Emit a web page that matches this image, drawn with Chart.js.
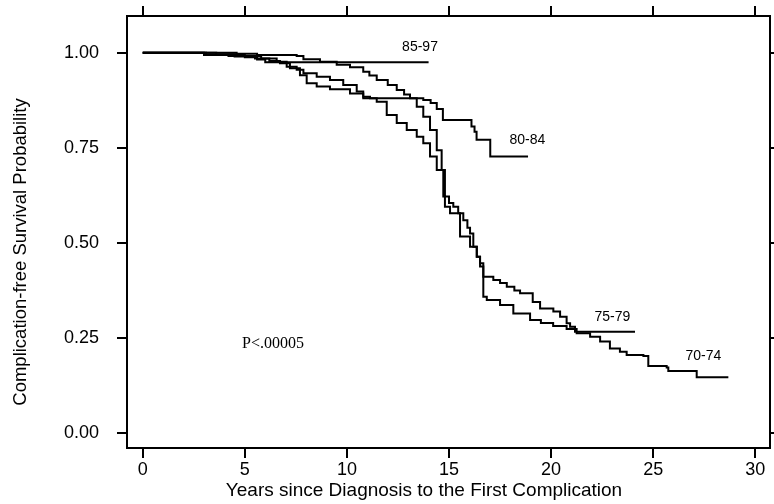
<!DOCTYPE html>
<html lang="en">
<head>
<meta charset="UTF-8" />
<title>Complication-free Survival Probability</title>
<script src="https://cdn.jsdelivr.net/npm/chart.js"></script>
<style>
  body { margin: 0; background: #fff; }
</style>
</head>
<body>
<canvas id="kmChart" width="774" height="504"></canvas>
<script>
// axis ticks
const xTicks = [0, 5, 10, 15, 20, 25, 30];
const yTicks = [0, 0.25, 0.5, 0.75, 1];
const xTitle = "Years since Diagnosis to the First Complication";
const yTitle = "Complication-free Survival Probability";

// cohorts (year of diagnosis)
const cohorts = ["70-74", "75-79", "80-84", "85-97"];

// Kaplan-Meier steps: event time (years) and survival after it
const years7074 = [0, 3.1, 4.5, 5.5, 6.2, 6.72, 7.21, 7.7, 8.03, 8.52, 9.17, 10.15, 10.8, 11.46, 11.95, 12.44, 12.93, 13.42, 13.74, 14.07, 14.4, 14.72, 14.8, 15.05, 15.54, 16.03, 16.36, 16.52, 16.68, 16.85, 17.5, 18.15, 18.97, 19.5, 20.1, 20.76, 21.25, 21.91, 22.4, 22.88, 23.37, 23.7, 24.52, 24.76, 25.66, 25.74, 27.13, 28.68];
const surv7074  = [1, 0.995, 0.99, 0.985, 0.978, 0.972, 0.959, 0.941, 0.92, 0.911, 0.904, 0.893, 0.88, 0.871, 0.836, 0.815, 0.797, 0.779, 0.762, 0.727, 0.692, 0.622, 0.595, 0.578, 0.517, 0.49, 0.464, 0.438, 0.359, 0.35, 0.337, 0.315, 0.298, 0.29, 0.282, 0.274, 0.263, 0.254, 0.241, 0.223, 0.214, 0.206, 0.203, 0.177, 0.173, 0.164, 0.147, 0.147];

const years7579 = [0, 4.6, 5.6, 7.54, 7.87, 8.68, 9.5, 10.15, 10.8, 11.1, 11.46, 12.0, 12.44, 12.8, 13.09, 13.42, 13.74, 14.07, 14.4, 14.64, 14.8, 15.0, 15.21, 15.45, 15.7, 15.9, 16.03, 16.19, 16.36, 16.52, 16.68, 17.17, 17.5, 17.83, 18.2, 18.48, 19.1, 19.46, 20.11, 20.44, 20.76, 20.93, 21.17, 24.11];
const surv7579  = [1, 0.997, 0.994, 0.991, 0.983, 0.976, 0.968, 0.962, 0.95, 0.94, 0.928, 0.915, 0.902, 0.89, 0.88, 0.858, 0.832, 0.797, 0.744, 0.692, 0.622, 0.605, 0.595, 0.578, 0.56, 0.54, 0.525, 0.49, 0.464, 0.447, 0.411, 0.403, 0.395, 0.385, 0.375, 0.368, 0.345, 0.328, 0.32, 0.306, 0.289, 0.28, 0.267, 0.267];

const years8084 = [0, 3.6, 5.0, 5.8, 6.56, 7.05, 7.54, 7.87, 8.52, 9.17, 9.82, 10.48, 10.8, 11.13, 13.74, 14.1, 14.4, 14.7, 16.1, 16.25, 16.35, 17.02, 18.87];
const surv8084  = [1, 0.996, 0.991, 0.985, 0.976, 0.963, 0.955, 0.946, 0.937, 0.928, 0.915, 0.898, 0.884, 0.88, 0.876, 0.868, 0.852, 0.823, 0.806, 0.792, 0.771, 0.727, 0.727];

const years8597 = [0, 3.0, 4.2, 5.0, 5.6, 6.0, 14.0];
const surv8597  = [1, 0.994, 0.991, 0.988, 0.982, 0.975, 0.975];

// where each cohort name sits (years, survival)
const labelYears = [27.46, 23.0, 18.84, 13.58];
const labelSurv = [0.203, 0.304, 0.769, 1.015];

const pText = "P<.00005";
const pYear = 6.38;
const pSurv = 0.235;

const years = [years7074, years7579, years8084, years8597];
const surv = [surv7074, surv7579, surv8084, surv8597];

const sans = "'Liberation Sans', Arial, sans-serif";

const datasets = cohorts.map((name, i) => ({
  label: name,
  data: years[i].map((t, j) => ({ x: t, y: surv[i][j] })),
  stepped: "before",
  borderColor: "#000",
  borderWidth: 2,
  pointRadius: 0,
  fill: false,
}));

// curve names, p-value and the two axis titles (placed a bit off-centre, as in the scan)
const chartTexts = {
  id: "chartTexts",
  afterDatasetsDraw(chart) {
    const { ctx, scales } = chart;
    ctx.save();
    ctx.fillStyle = "#000";
    ctx.textAlign = "center";
    ctx.textBaseline = "middle";
    ctx.font = "14px " + sans;
    cohorts.forEach((name, i) => {
      ctx.fillText(name, scales.x.getPixelForValue(labelYears[i]), scales.y.getPixelForValue(labelSurv[i]));
    });
    ctx.font = "16px 'Liberation Serif', 'Times New Roman', serif";
    ctx.fillText(pText, scales.x.getPixelForValue(pYear), scales.y.getPixelForValue(pSurv));

    ctx.font = "19px " + sans;
    ctx.fillText(xTitle, 424, 491);
    ctx.translate(21, 252);
    ctx.rotate(-Math.PI / 2);
    ctx.font = "18.5px " + sans;
    ctx.fillText(yTitle, 0, 0);
    ctx.restore();
  },
};

const frame = { display: true, color: "#000", width: 2 };
const tickMarks = { drawOnChartArea: false, drawTicks: true, tickLength: 10, color: "#000", lineWidth: 2 };
const setXTicks = (scale) => { scale.ticks = xTicks.map((v) => ({ value: v })); };
const setYTicks = (scale) => { scale.ticks = yTicks.map((v) => ({ value: v })); };
// fixed box sizes so the plot frame lands where it is in the picture
const fitBox = (w, h) => (s) => {
  if (w !== null) s.width = w;
  if (h !== null) s.height = h;
  s.paddingTop = 0; s.paddingBottom = 0; s.paddingLeft = 0; s.paddingRight = 0;
};

new Chart(document.getElementById("kmChart"), {
  type: "line",
  data: { datasets: datasets },
  plugins: [chartTexts],
  options: {
    responsive: false,
    animation: false,
    devicePixelRatio: 1,
    layout: { padding: 0 },
    plugins: { legend: { display: false }, tooltip: { enabled: false } },
    scales: {
      x: {
        type: "linear",
        position: "bottom",
        min: -0.77,
        max: 30.72,
        afterBuildTicks: setXTicks,
        afterFit: fitBox(null, 56),
        grid: tickMarks,
        border: frame,
        ticks: { color: "#000", font: { family: sans, size: 18 }, padding: 1, maxRotation: 0, callback: (v) => String(v) },
      },
      xTop: {
        type: "linear",
        position: "top",
        min: -0.77,
        max: 30.72,
        afterBuildTicks: setXTicks,
        afterFit: fitBox(null, 16),
        grid: tickMarks,
        border: frame,
        ticks: { display: false },
      },
      y: {
        type: "linear",
        position: "left",
        min: -0.0386,
        max: 1.0964,
        afterBuildTicks: setYTicks,
        afterFit: fitBox(127, null),
        grid: tickMarks,
        border: frame,
        ticks: { color: "#000", font: { family: sans, size: 18 }, padding: 18, callback: (v) => v.toFixed(2) },
      },
      yRight: {
        type: "linear",
        position: "right",
        min: -0.0386,
        max: 1.0964,
        afterBuildTicks: setYTicks,
        afterFit: fitBox(4, null),
        grid: tickMarks,
        border: frame,
        ticks: { display: false },
      },
    },
  },
});
</script>
</body>
</html>
